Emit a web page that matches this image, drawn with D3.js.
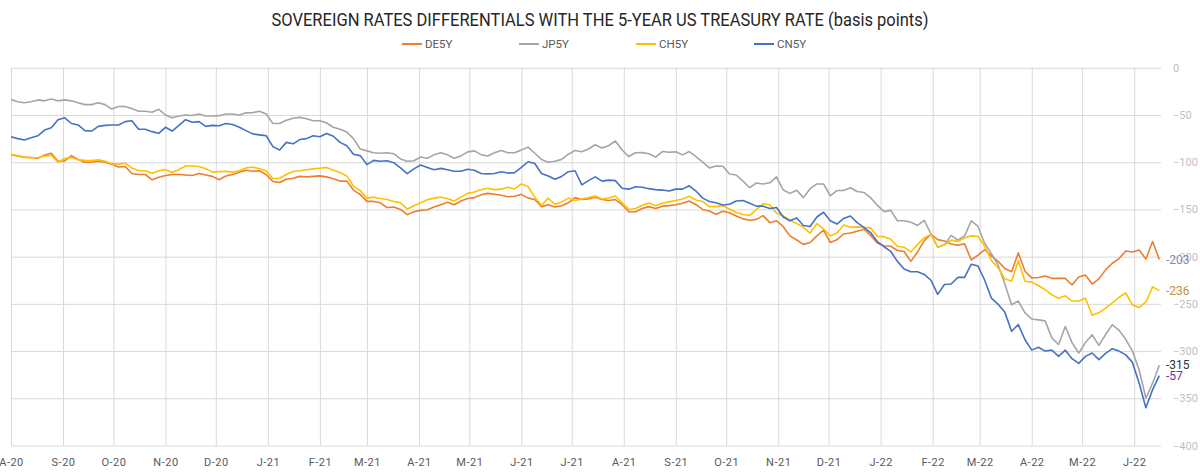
<!DOCTYPE html>
<html>
  <head>
    <meta charset="utf-8">
    <title>Sovereign rates differentials</title>
    <script src="https://d3js.org/d3.v7.min.js"></script>
    <style>
      body { margin: 0; background: #fff; }
      text { font-family: Roboto, "Noto Sans", sans-serif; }
    </style>
  </head>
  <body>
    <script>
      // dates: one reading every 4 days from startDate
      const startDate = '2020-08-01', stepDays = 4, endDate = '2022-06-17';

      const seriesNames = ['DE5Y', 'JP5Y', 'CH5Y', 'CN5Y'];

      const de5y = [-92, -93.5, -94.5, -95, -95.8, -92.5, -90.5, -99, -98.6, -93, -97, -100, -100, -99, -100, -102, -105, -104.6, -112, -113, -113, -118.6, -116, -114, -113, -113, -113.5, -114, -112, -113.5, -115, -118.6, -114.5, -113, -110.5,
        -108.5, -109.5, -109, -113, -120.4, -121.5, -118, -117, -115, -115.5, -115, -114.5, -115.5, -117.5, -120, -120, -129.5, -134, -141.5, -141.5, -143, -148, -147.5, -150, -155.5, -152.5, -151, -150.3, -147.5, -145, -142.5, -145, -141, -138.5,
        -137.5, -134.5, -133, -134, -135, -136.5, -136, -134, -138, -139.5, -147, -145, -147.5, -146, -143, -137.5, -139.5, -139, -137, -139.5, -140.5, -139.5, -145, -152.5, -152.5, -149, -147, -149, -146.5, -146, -145, -143.5, -141, -145,
        -150, -151.7, -155, -152, -153.5, -157, -160, -161.5, -160.5, -156.5, -164, -162, -168.3, -178, -182.4, -187, -185, -178, -172, -185, -182, -176, -175, -173, -171, -177.5, -185.5, -188.5, -189, -193.5, -194.5, -205, -195, -183, -176.5,
        -182, -183.5, -186.6, -188, -186.5, -203.5, -198.5, -192.5, -199.5, -205, -212.5, -216, -196, -215.5, -222.5, -222, -220.5, -223, -223, -223, -230, -221.5, -219.5, -229, -223.5, -214, -207, -202, -194, -195, -193, -202.5, -184, -203];

      const jp5y = [-33.5, -36, -37, -36, -34, -35, -33, -35, -34, -35, -37, -39, -39, -37, -39, -43.7, -41, -41, -43, -46, -46, -47, -44, -50, -53, -51, -50, -50.5, -49, -51, -51, -50.7, -49, -49, -50,
        -47.7, -47.5, -46, -49, -59, -59, -55.5, -53.5, -52.5, -54, -56, -56, -58.5, -63, -65, -68, -75, -86, -88, -90, -90.5, -90, -91, -96.5, -99, -98.5, -94.5, -95.8, -92.2, -90, -92.2, -95.8, -93.3, -89,
        -88, -92, -93.5, -90, -87.5, -90, -90, -87, -84, -90.5, -97, -100, -99, -97, -91.5, -87.5, -89, -86, -81.5, -85, -82.5, -77.5, -87, -94, -90, -89.8, -91, -94.5, -88.7, -89.5, -89, -92.2, -88.7, -94,
        -100, -106, -104, -104.2, -112.5, -113.5, -120, -127, -122, -123, -121.8, -115.5, -129.5, -133, -129.7, -137.5, -128, -123, -123, -135.5, -130, -130, -127, -131, -132, -137.5, -145.5, -152.3, -151, -162, -162, -163.5, -167, -161.5, -176,
        -190, -187.5, -177.5, -182.5, -178, -162, -168, -186, -197, -209, -229, -251, -247, -259.5, -266, -267, -268, -286, -293, -274, -291, -302, -291, -282.7, -294, -282.5, -272, -278, -287.5, -300, -320, -350, -334, -315];

      const ch5y = [-91.5, -93, -95, -95.5, -95, -93.5, -92.5, -100, -96, -95, -97.5, -98, -98.3, -97.5, -99, -101.5, -102, -101, -106, -109, -109, -111.6, -109, -108, -111, -108, -104, -104, -104.5, -107, -110.5, -110, -109.5, -110.5, -109,
        -106, -105, -107, -109, -117.5, -117, -113, -109.8, -109, -108, -107, -106.3, -105.5, -108.5, -111, -114.5, -125.5, -130, -138, -137, -138.5, -139.5, -141.5, -143, -149.5, -146, -143, -139.8, -138, -137, -138.5, -141, -137, -133,
        -131.5, -129.2, -127.5, -129, -128.5, -126.5, -128.3, -123, -126, -137, -145.5, -138, -144.5, -142, -138, -140.5, -139, -137.5, -135.8, -139, -138, -135.8, -143, -150, -149, -145.5, -143.3, -146, -143.5, -142, -140.5, -139, -136, -140,
        -141.5, -147, -147, -146, -149.5, -153.3, -155.3, -156.5, -150, -144, -145, -154, -157, -161.5, -164.8, -169, -175, -165, -170.5, -178, -175, -166.5, -169, -168.5, -169, -169.5, -178.5, -178.8, -181.5, -189, -190, -195, -187, -180, -176.5,
        -190, -187.5, -182.5, -184, -180, -178, -178.5, -189, -204, -212, -223.5, -226, -204, -226, -227, -230.5, -235, -240.5, -244, -241.5, -247, -247, -244, -262, -259.5, -254.5, -249, -243, -238.5, -251, -254, -248, -232, -236];

      const cn5y = [-73, -75, -76.5, -74, -72, -66, -63.4, -55, -53, -59, -60.5, -66.5, -67, -62, -61, -60.6, -60.6, -57, -56, -65, -65, -67.6, -69.4, -63, -67, -61, -55, -57.7, -57, -62, -61, -61.3, -59, -60, -63,
        -66.5, -70, -71, -72, -83.5, -87, -79, -80.5, -76, -75, -72, -73, -69.5, -72.5, -79, -82.5, -91.5, -93, -102.5, -98, -99, -98.5, -100.5, -106, -112, -107, -103, -105.5, -108, -106.5, -108, -109.5, -109.5, -107.5,
        -108.5, -112, -112.3, -112, -110, -111.5, -111, -105.5, -99.5, -101.3, -112, -114.5, -118, -115, -110, -109, -124, -119.5, -115.5, -120, -119, -119.5, -127.5, -128.5, -126, -126.5, -128, -129, -129.5, -130.5, -128.5, -128.5, -125, -130.5,
        -138, -141.5, -143, -145.3, -144.5, -141, -140.5, -143.5, -146.5, -146.5, -149, -148, -158, -162, -159, -167, -168, -158, -153, -162, -165.5, -159.5, -157, -164, -169, -174.5, -184, -189.5, -194.5, -205, -213, -216, -216, -218.8, -225,
        -240, -229.5, -229, -222, -222, -208, -210, -225, -244, -250.5, -259, -279, -272, -288, -299, -296, -300, -299, -305.6, -299, -308, -313, -305.6, -302, -309, -302.5, -297.5, -300, -304, -312, -334, -360, -340.8, -326];

      const colors = ['#ED7D31', '#A5A5A5', '#FFC000', '#4472C4'];

      // labels printed at the right end of the lines, as they appear
      const endLabels = ['-203', '-315', '-236', '-57'];
      const endLabelColors = ['#7e8cae', '#333333', '#c8913f', '#7030a0'];

      const yTicks = [0, -50, -100, -150, -200, -250, -300, -350, -400];
      const monthLabels = ['A-20', 'S-20', 'O-20', 'N-20', 'D-20', 'J-21', 'F-21', 'M-21', 'A-21', 'M-21', 'J-21', 'J-21',
        'A-21', 'S-21', 'O-21', 'N-21', 'D-21', 'J-22', 'F-22', 'M-22', 'A-22', 'M-22', 'J-22'];

      const title = 'SOVEREIGN RATES DIFFERENTIALS WITH THE 5-YEAR US TREASURY RATE (basis points)';

      let width = 1200, height = 472;
      let plotLeft = 11, plotRight = 1161, plotTop = 67.8, plotBottom = 445.5;

      let svg = d3.select('body').append('svg')
        .attr('width', width)
        .attr('height', height)
        .style('background-color', '#fff');

      let parse = d3.timeParse('%Y-%m-%d');
      let t0 = parse(startDate);
      let dates = de5y.map((d, i) => d3.timeDay.offset(t0, i * stepDays));

      let xScale = d3.scaleTime().domain([t0, parse(endDate)]).range([plotLeft, plotRight]);
      let yScale = d3.scaleLinear().domain([-400, 0]).range([plotBottom, plotTop]);

      // right axis with horizontal grid
      let yAxis = d3.axisRight(yScale).tickValues(yTicks).tickSize(-(plotRight - plotLeft)).tickPadding(12);
      let gy = svg.append('g').attr('transform', `translate(${plotRight}, 0)`).call(yAxis);
      gy.select('.domain').remove();
      gy.selectAll('line').attr('stroke', '#d9d9d9');
      gy.selectAll('text').attr('fill', '#bfbfbf').style('font-size', '11px');

      // bottom axis with vertical grid, one per month
      let months = d3.timeMonth.range(t0, parse(endDate));
      let xAxis = d3.axisBottom(xScale).tickValues(months).tickSize(-(plotBottom - plotTop)).tickPadding(13)
        .tickFormat((d, i) => monthLabels[i]);
      let gx = svg.append('g').attr('transform', `translate(0, ${plotBottom})`).call(xAxis);
      gx.select('.domain').remove();
      gx.selectAll('line').attr('stroke', '#d9d9d9');
      gx.selectAll('text').attr('fill', '#595959').style('font-size', '11px').style('letter-spacing', '0.5px');

      let allSeries = [de5y, jp5y, ch5y, cn5y];

      let line = d3.line()
        .x((d, i) => xScale(dates[i]))
        .y(d => yScale(d));

      svg.selectAll('path.series').data(allSeries)
        .enter().append('path')
        .attr('class', 'series')
        .attr('d', d => line(d))
        .attr('fill', 'none')
        .attr('stroke', (d, i) => colors[i])
        .attr('stroke-width', 1.6)
        .attr('stroke-linejoin', 'round');

      // end labels
      let lastVals = allSeries.map(s => s[s.length - 1]);
      svg.selectAll('text.end').data(endLabels)
        .enter().append('text')
        .attr('class', 'end')
        .attr('x', 1166)
        .attr('y', (d, i) => yScale(lastVals[i]))
        .attr('dy', '0.35em')
        .attr('fill', (d, i) => endLabelColors[i])
        .style('font-size', '12px')
        .text(d => d);

      // title, squeezed to the width of the condensed original
      svg.append('text')
        .attr('x', 600).attr('y', 26)
        .attr('text-anchor', 'middle')
        .attr('fill', '#262626')
        .attr('textLength', 657)
        .attr('lengthAdjust', 'spacingAndGlyphs')
        .style('font-size', '18px')
        .text(title);

      // legend
      let legendX = [402, 519, 636, 754];
      let legend = svg.selectAll('g.legend').data(seriesNames)
        .enter().append('g')
        .attr('class', 'legend')
        .attr('transform', (d, i) => `translate(${legendX[i]}, 44)`);
      legend.append('line')
        .attr('x1', 0).attr('x2', 20)
        .attr('stroke', (d, i) => colors[i])
        .attr('stroke-width', 2);
      legend.append('text')
        .attr('x', 23).attr('dy', '0.35em')
        .attr('fill', '#595959')
        .style('font-size', '11.5px')
        .text(d => d);
    </script>
  </body>
</html>
